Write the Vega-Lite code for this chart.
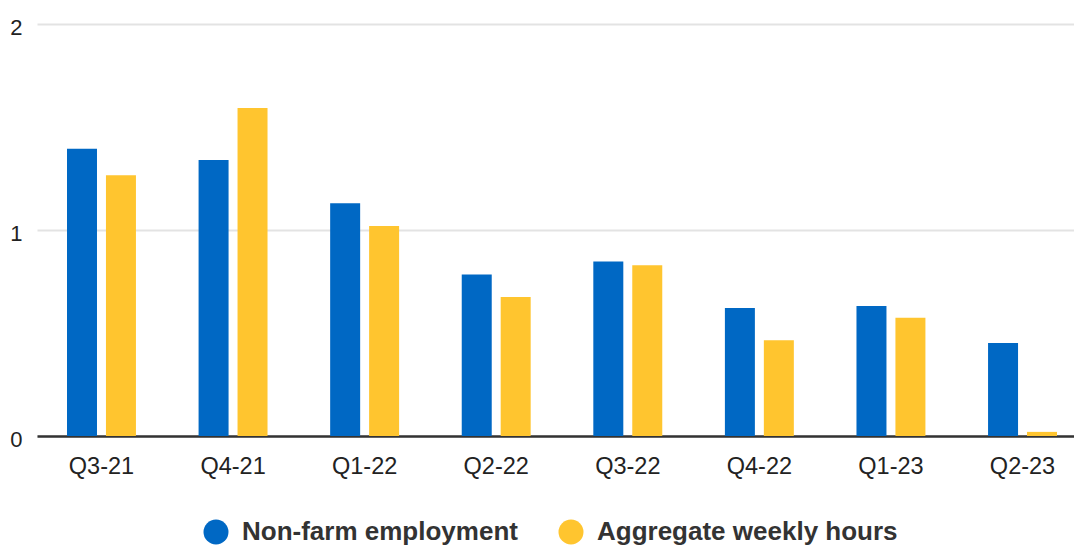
{
  "$schema": "https://vega.github.io/schema/vega-lite/v6.json",
  "width": 1037,
  "height": 412,
  "autosize": {"type": "none"},
  "padding": {"left": 37, "top": 24, "right": 0, "bottom": 110},
  "background": "white",
  "config": {
    "view": {"stroke": null},
    "font": "Liberation Sans"
  },
  "data": {
    "values": [
      {"quarter": "Q3-21", "series": "Non-farm employment", "value": 1.394},
      {"quarter": "Q3-21", "series": "Aggregate weekly hours", "value": 1.266},
      {"quarter": "Q4-21", "series": "Non-farm employment", "value": 1.340},
      {"quarter": "Q4-21", "series": "Aggregate weekly hours", "value": 1.592},
      {"quarter": "Q1-22", "series": "Non-farm employment", "value": 1.130},
      {"quarter": "Q1-22", "series": "Aggregate weekly hours", "value": 1.020},
      {"quarter": "Q2-22", "series": "Non-farm employment", "value": 0.784},
      {"quarter": "Q2-22", "series": "Aggregate weekly hours", "value": 0.675},
      {"quarter": "Q3-22", "series": "Non-farm employment", "value": 0.847},
      {"quarter": "Q3-22", "series": "Aggregate weekly hours", "value": 0.829},
      {"quarter": "Q4-22", "series": "Non-farm employment", "value": 0.621},
      {"quarter": "Q4-22", "series": "Aggregate weekly hours", "value": 0.465},
      {"quarter": "Q1-23", "series": "Non-farm employment", "value": 0.631},
      {"quarter": "Q1-23", "series": "Aggregate weekly hours", "value": 0.574},
      {"quarter": "Q2-23", "series": "Non-farm employment", "value": 0.452},
      {"quarter": "Q2-23", "series": "Aggregate weekly hours", "value": 0.020}
    ]
  },
  "mark": {"type": "bar"},
  "encoding": {
    "x": {
      "field": "quarter",
      "type": "nominal",
      "sort": null,
      "title": null,
      "scale": {"range": [0, 1050], "paddingInner": 0.476, "paddingOuter": 0.228},
      "axis": {
        "labelAngle": 0,
        "labelFontSize": 23.5,
        "labelColor": "#222222",
        "labelPadding": 18,
        "ticks": false,
        "domainColor": "#333333",
        "domainWidth": 2.5,
        "grid": false
      }
    },
    "xOffset": {
      "field": "series",
      "type": "nominal",
      "sort": ["Non-farm employment", "Aggregate weekly hours"],
      "scale": {"paddingInner": 0.23, "paddingOuter": 0}
    },
    "y": {
      "field": "value",
      "type": "quantitative",
      "title": null,
      "scale": {"domain": [0, 2], "nice": false},
      "axis": {
        "values": [0, 1, 2],
        "format": "~g",
        "labelFontSize": 22,
        "labelColor": "#222222",
        "labelPadding": 15,
        "labelOffset": 3,
        "ticks": false,
        "domain": false,
        "gridColor": "#e3e3e3",
        "gridWidth": 2
      }
    },
    "color": {
      "field": "series",
      "type": "nominal",
      "sort": ["Non-farm employment", "Aggregate weekly hours"],
      "scale": {
        "domain": ["Non-farm employment", "Aggregate weekly hours"],
        "range": ["#0068C4", "#FFC52F"]
      },
      "legend": {
        "title": null,
        "orient": "none",
        "direction": "horizontal",
        "legendX": 166,
        "legendY": 495,
        "symbolType": "circle",
        "symbolSize": 625,
        "symbolStrokeWidth": 0,
        "labelFontSize": 26,
        "labelFontWeight": "bold",
        "labelColor": "#333333",
        "labelOffset": 13,
        "columnPadding": 40,
        "labelLimit": 400
      }
    }
  }
}
